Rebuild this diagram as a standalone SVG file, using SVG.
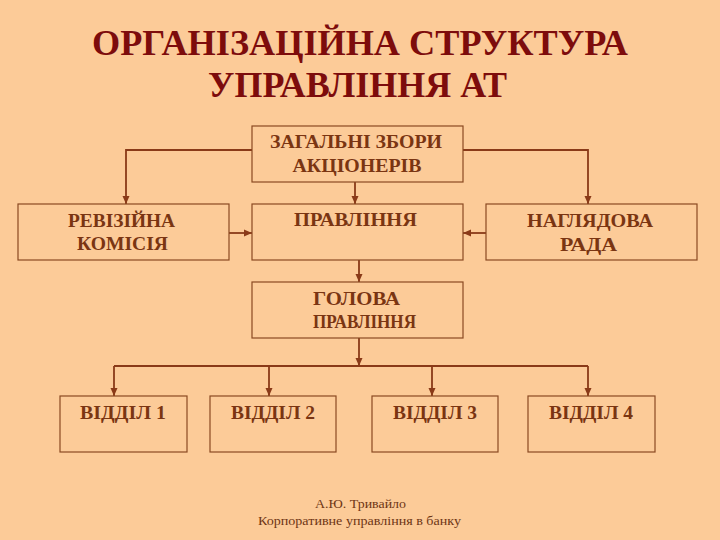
<svg xmlns="http://www.w3.org/2000/svg" width="720" height="540" viewBox="0 0 720 540">
<style>
.title{font-family:"Liberation Serif","DejaVu Serif",serif;font-weight:bold;font-size:35px;fill:#7d0c0c;text-anchor:middle}
.lbl{font-family:"Liberation Serif","DejaVu Serif",serif;font-weight:bold;font-size:18px;fill:#7a3512;text-anchor:middle}
.foot{font-family:"Liberation Serif","DejaVu Serif",serif;font-size:13.5px;fill:#6e3514;text-anchor:middle}
.box{fill:none;stroke:#8a4a22;stroke-width:1.2}
.con{fill:none;stroke:#8a3a18;stroke-width:1.8}
</style>
<defs>
<marker id="arr" markerUnits="userSpaceOnUse" markerWidth="9" markerHeight="8" refX="8" refY="4" orient="auto">
<path d="M0,0.5 L8,4 L0,7.5 z" fill="#8a3a18"/>
</marker>
</defs>
<rect x="0" y="0" width="720" height="540" fill="#fccb98"/>
<text class="title" x="360" y="55" textLength="536" lengthAdjust="spacingAndGlyphs">ОРГАНІЗАЦІЙНА СТРУКТУРА</text>
<text class="title" x="357.5" y="97" textLength="299" lengthAdjust="spacingAndGlyphs">УПРАВЛІННЯ АТ</text>

<g id="connectors">
<path class="con" d="M252,150 H126 V204" marker-end="url(#arr)"/>
<path class="con" d="M463,150 H588 V204" marker-end="url(#arr)"/>
<path class="con" d="M355,182 V204" marker-end="url(#arr)"/>
<path class="con" d="M229,233 H252" marker-end="url(#arr)"/>
<path class="con" d="M486,233 H463" marker-end="url(#arr)"/>
<path class="con" d="M359,260 V282" marker-end="url(#arr)"/>
<path class="con" d="M359,338 V366" marker-end="url(#arr)"/>
<path class="con" d="M114,366 H588"/>
<path class="con" d="M114,366 V396" marker-end="url(#arr)"/>
<path class="con" d="M269,366 V396" marker-end="url(#arr)"/>
<path class="con" d="M432,366 V396" marker-end="url(#arr)"/>
<path class="con" d="M588,366 V396" marker-end="url(#arr)"/>
</g>

<g id="zagalni">
<rect class="box" x="252" y="126" width="211" height="56"/>
<text class="lbl" x="356" y="148" textLength="172" lengthAdjust="spacingAndGlyphs">ЗАГАЛЬНІ ЗБОРИ</text>
<text class="lbl" x="357" y="172" textLength="129" lengthAdjust="spacingAndGlyphs">АКЦІОНЕРІВ</text>
</g>
<g id="revizijna">
<rect class="box" x="18" y="204" width="211" height="56"/>
<text class="lbl" x="121.5" y="227" textLength="107" lengthAdjust="spacingAndGlyphs">РЕВІЗІЙНА</text>
<text class="lbl" x="122.5" y="250" textLength="91" lengthAdjust="spacingAndGlyphs">КОМІСІЯ</text>
</g>
<g id="pravlinnia">
<rect class="box" x="252" y="204" width="211" height="56"/>
<text class="lbl" x="355.5" y="226" textLength="123" lengthAdjust="spacingAndGlyphs">ПРАВЛІННЯ</text>
</g>
<g id="nagliadova">
<rect class="box" x="486" y="204" width="211" height="56"/>
<text class="lbl" x="590" y="227" textLength="126" lengthAdjust="spacingAndGlyphs">НАГЛЯДОВА</text>
<text class="lbl" x="588.5" y="251" textLength="57" lengthAdjust="spacingAndGlyphs">РАДА</text>
</g>
<g id="holova">
<rect class="box" x="252" y="282" width="211" height="56"/>
<text class="lbl" x="356.5" y="305" textLength="87" lengthAdjust="spacingAndGlyphs">ГОЛОВА</text>
<text class="lbl" x="364.5" y="328" textLength="103" lengthAdjust="spacingAndGlyphs">ПРАВЛІННЯ</text>
</g>
<g id="viddil1">
<rect class="box" x="60" y="396" width="127" height="56"/>
<text class="lbl" x="123" y="419" textLength="86" lengthAdjust="spacingAndGlyphs">ВІДДІЛ 1</text>
</g>
<g id="viddil2">
<rect class="box" x="210" y="396" width="126" height="56"/>
<text class="lbl" x="273" y="419" textLength="84" lengthAdjust="spacingAndGlyphs">ВІДДІЛ 2</text>
</g>
<g id="viddil3">
<rect class="box" x="372" y="396" width="126" height="56"/>
<text class="lbl" x="435" y="419" textLength="84" lengthAdjust="spacingAndGlyphs">ВІДДІЛ 3</text>
</g>
<g id="viddil4">
<rect class="box" x="528" y="396" width="127" height="56"/>
<text class="lbl" x="591" y="419" textLength="84" lengthAdjust="spacingAndGlyphs">ВІДДІЛ 4</text>
</g>

<text class="foot" x="360.5" y="508" textLength="91" lengthAdjust="spacingAndGlyphs">А.Ю. Тривайло</text>
<text class="foot" x="359.5" y="525" textLength="203" lengthAdjust="spacingAndGlyphs">Корпоративне управління в банку</text>
</svg>
